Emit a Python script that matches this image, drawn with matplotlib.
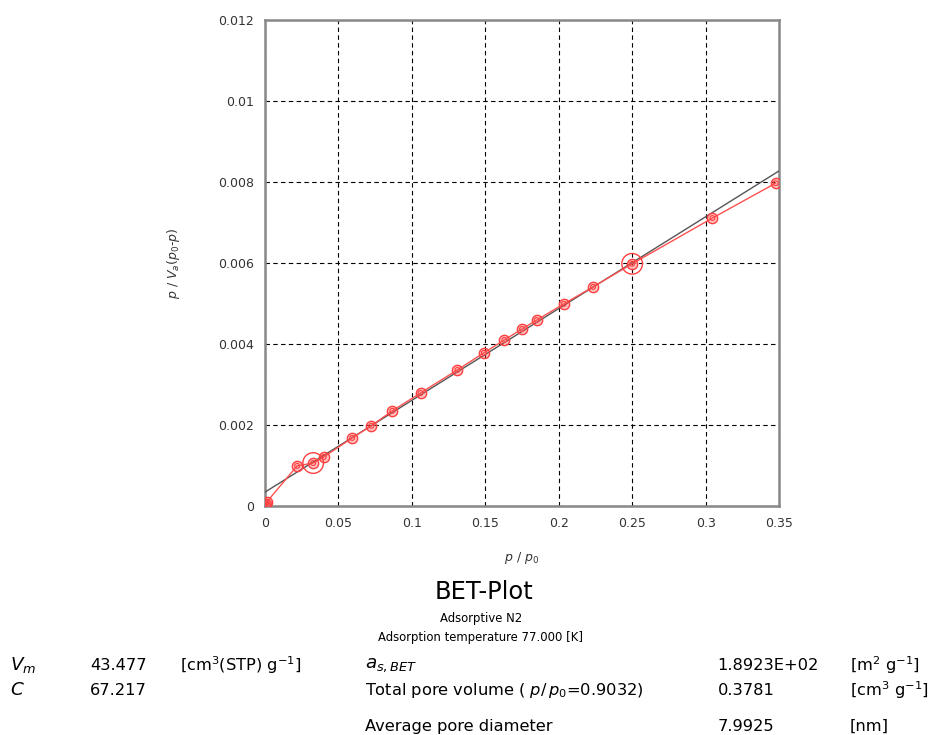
import numpy as np
import matplotlib.pyplot as plt

# BET plot data
p_rel = [0.0, 0.0005, 0.0012, 0.0219, 0.0328, 0.040, 0.0594, 0.0724, 0.0867, 0.1059,
         0.131, 0.149, 0.163, 0.175, 0.185, 0.2035, 0.2234, 0.25, 0.3047, 0.3477]
bet_y = [0.0, 0.00004, 0.0001, 0.00099, 0.00106, 0.00121, 0.00168, 0.00198, 0.00235, 0.00279,
         0.00336, 0.00378, 0.0041, 0.00437, 0.00459, 0.00499, 0.00541, 0.00598, 0.00711, 0.00797]
# points chosen as ends of the BET fit range
sel_x = [0.0328, 0.25]
sel_y = [0.00106, 0.00598]

# fit results shown under the plot
Vm = 43.477
C = 67.217
fit_x = [0.0, 0.35]

xticks = [0, 0.05, 0.1, 0.15, 0.2, 0.25, 0.3, 0.35]
xticklabels = ['0', '0.05', '0.1', '0.15', '0.2', '0.25', '0.3', '0.35']
yticks = [0, 0.002, 0.004, 0.006, 0.008, 0.01, 0.012]
yticklabels = ['0', '0.002', '0.004', '0.006', '0.008', '0.01', '0.012']

fig = plt.figure(figsize=(9.39, 7.35), dpi=100)
ax = fig.add_axes([0.2822, 0.3116, 0.5474, 0.6612])

# regression line from the BET constants
slope = (C - 1) / (Vm * C)
icept = 1 / (Vm * C)
ax.plot(fit_x, [icept + slope * x for x in fit_x], color='#555555', lw=1.0, zorder=3)

# measured points joined by a thin red line
ax.plot(p_rel, bet_y, color='#ff5050', lw=1.0, zorder=4)
ax.scatter(p_rel, bet_y, s=55, facecolor=(1, 0.3, 0.3, 0.35), edgecolor='#ff4040', lw=1.0, zorder=5)
ax.scatter(p_rel, bet_y, s=12, facecolor='none', edgecolor='#ff4040', lw=0.8, zorder=6)
ax.scatter(sel_x, sel_y, s=220, facecolor='none', edgecolor='#ff4040', lw=1.0, zorder=6)

ax.set_xlim(0, 0.35)
ax.set_ylim(0, 0.012)
ax.set_xticks(xticks)
ax.set_xticklabels(xticklabels)
ax.set_yticks(yticks)
ax.set_yticklabels(yticklabels)
ax.tick_params(length=0, labelsize=9, pad=8, colors='#333333')
ax.grid(True, color='black', ls=(0, (4, 3)), lw=0.8)
for s in ax.spines.values():
    s.set_color('#888888')
    s.set_linewidth(1.8)

ax.set_xlabel(r'$p\ /\ p_0$', fontsize=9, labelpad=14, color='#333333')
ax.set_ylabel(r'$p\ /\ V_a(p_0$-$p)$', fontsize=9, labelpad=26, color='#333333')

# title block
fig.text(0.515, 0.194, 'BET-Plot', ha='center', va='center', fontsize=17.4)
fig.text(0.512, 0.159, 'Adsorptive N2', ha='center', va='center', fontsize=8.4)
fig.text(0.512, 0.133, 'Adsorption temperature 77.000 [K]', ha='center', va='center', fontsize=8.4)

# results table
fs = 11.7
r1, r2, r3 = 0.095, 0.061, 0.012
fig.text(0.011, r1, r'$V_m$', fontsize=fs + 1.5, va='center')
fig.text(0.096, r1, '43.477', fontsize=fs, va='center')
fig.text(0.192, r1, r'[cm$^3$(STP) g$^{-1}$]', fontsize=fs, va='center')
fig.text(0.011, r2, r'$C$', fontsize=fs + 1.5, va='center')
fig.text(0.096, r2, '67.217', fontsize=fs, va='center')

fig.text(0.389, r1, r'$a_{s,BET}$', fontsize=fs + 1.5, va='center')
fig.text(0.764, r1, '1.8923E+02', fontsize=fs, va='center')
fig.text(0.905, r1, r'[m$^2$ g$^{-1}$]', fontsize=fs, va='center')
fig.text(0.389, r2, r'Total pore volume ( $p/\,p_0$=0.9032)', fontsize=fs, va='center')
fig.text(0.764, r2, '0.3781', fontsize=fs, va='center')
fig.text(0.905, r2, r'[cm$^3$ g$^{-1}$]', fontsize=fs, va='center')
fig.text(0.389, r3, 'Average pore diameter', fontsize=fs, va='center')
fig.text(0.764, r3, '7.9925', fontsize=fs, va='center')
fig.text(0.905, r3, '[nm]', fontsize=fs, va='center')

fig.savefig('out.png', dpi=100)
